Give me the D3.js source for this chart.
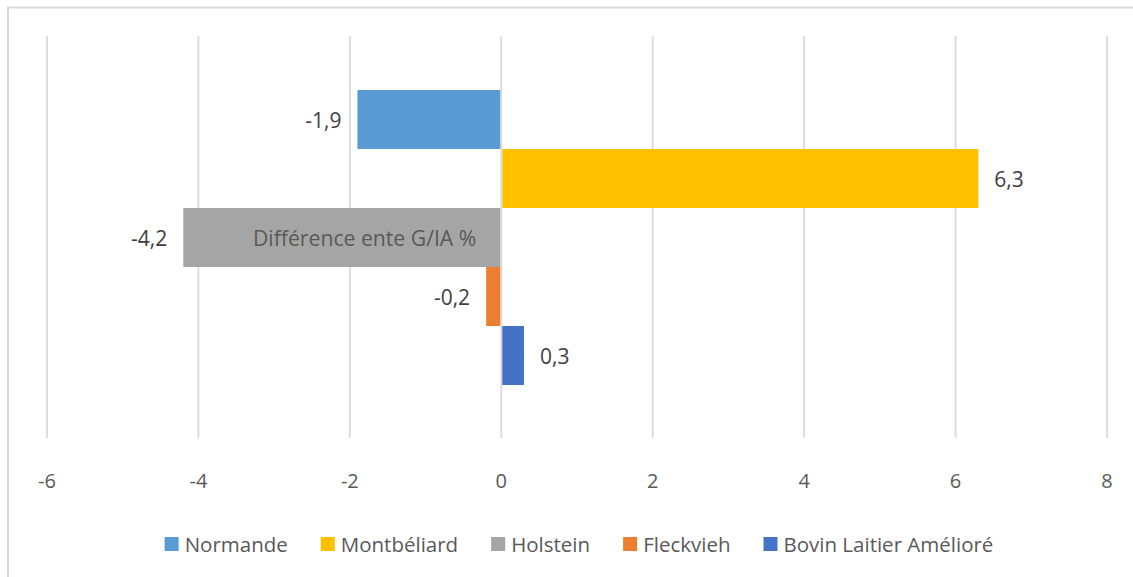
<!DOCTYPE html>
<html>
<head>
<meta charset="utf-8">
<script src="https://cdn.jsdelivr.net/npm/d3@7"></script>
<style>
  html, body { margin: 0; padding: 0; background: #fff; }
  svg { display: block; font-family: "Open Sans", sans-serif; }
</style>
</head>
<body>
<svg id="chart" width="1133" height="577"></svg>
<script>
const series = ["Normande", "Montbéliard", "Holstein", "Fleckvieh", "Bovin Laitier Amélioré"];
const values = [-1.9, 6.3, -4.2, -0.2, 0.3];
const colors = ["#5B9BD5", "#FFC000", "#A5A5A5", "#ED7D31", "#4472C4"];
const tickValues = [-6, -4, -2, 0, 2, 4, 6, 8];
const categoryLabel = "Différence ente G/IA %";

const svg = d3.select("#chart");
const W = 1133, H = 577;

// chart border
svg.append("rect").attr("x", 8).attr("y", 7.5).attr("width", W + 20).attr("height", H + 20)
  .attr("fill", "#fff").attr("stroke", "#d9d9d9").attr("stroke-width", 2);

const plotTop = 36, plotBottom = 438;
const x = d3.scaleLinear().domain([-6, 8]).range([47, 1107]);
const y = d3.scaleBand().domain(series).range([90, 385]).padding(0);

// gridlines
svg.append("g").selectAll("line").data(tickValues).join("line")
  .attr("x1", d => x(d)).attr("x2", d => x(d))
  .attr("y1", plotTop).attr("y2", plotBottom)
  .attr("stroke", "#d9d9d9").attr("stroke-width", 1.75);

// tick labels
svg.append("g").selectAll("text").data(tickValues).join("text")
  .attr("x", d => x(d)).attr("y", 480)
  .attr("text-anchor", "middle").attr("dominant-baseline", "central")
  .attr("fill", "#595959").attr("font-size", 20)
  .text(d => d3.format("d")(d).replace("−", "-"));

const data = series.map((s, i) => ({ s, v: values[i], c: colors[i] }));

// bars
svg.append("g").selectAll("rect").data(data).join("rect")
  .attr("x", d => d.v < 0 ? x(d.v) : x(0) + 1)
  .attr("width", d => Math.abs(x(d.v) - x(0)) - 1)
  .attr("y", d => y(d.s))
  .attr("height", y.bandwidth())
  .attr("fill", d => d.c);

// data labels
const fmt = v => String(v).replace(".", ",");
svg.append("g").selectAll("text").data(data).join("text")
  .attr("x", d => d.v < 0 ? x(d.v) - 16 : x(d.v) + 16)
  .attr("y", d => y(d.s) + y.bandwidth() / 2)
  .attr("text-anchor", d => d.v < 0 ? "end" : "start")
  .attr("dominant-baseline", "central")
  .attr("fill", "#404040").attr("font-size", 21)
  .text(d => fmt(d.v));

// category label inside the plot
svg.append("text")
  .attr("x", x(0) - 25).attr("y", y("Holstein") + y.bandwidth() / 2)
  .attr("text-anchor", "end").attr("dominant-baseline", "central")
  .attr("fill", "#595959").attr("font-size", 21.2)
  .text(categoryLabel);

// legend
const lg = svg.append("g");
const items = lg.selectAll("g").data(data).join("g");
items.append("rect").attr("width", 14).attr("height", 14).attr("y", -7).attr("fill", d => d.c);
items.append("text").attr("x", 20).attr("dominant-baseline", "central")
  .attr("fill", "#595959").attr("font-size", 20.5).text(d => d.s);
let cx = 0;
const offsets = [];
items.each(function () {
  offsets.push(cx);
  const tw = d3.select(this).select("text").node().getComputedTextLength();
  cx += 20 + tw + 33;
});
const total = cx - 33;
const startX = 579 - total / 2;
items.attr("transform", (d, i) => `translate(${startX + offsets[i]},544)`);
</script>
</body>
</html>
